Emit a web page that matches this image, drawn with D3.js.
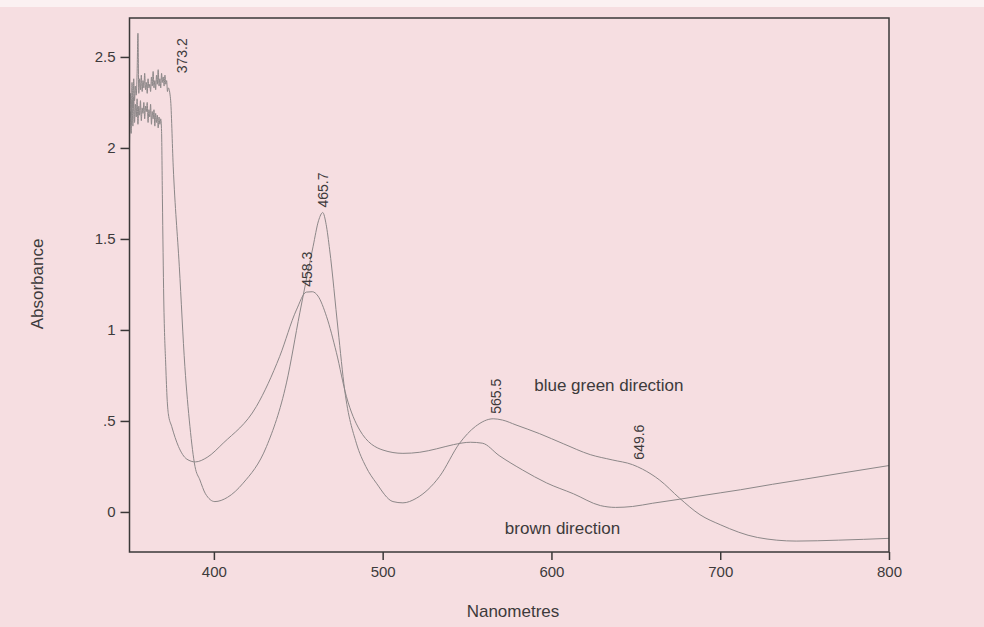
<!DOCTYPE html>
<html>
<head>
<meta charset="utf-8">
<script src="https://cdn.jsdelivr.net/npm/d3@7"></script>
<style>
	html, body { margin: 0; padding: 0; background: #f6dee1; }
	svg { display: block; }
	text { font-family: "Liberation Sans", Arial, sans-serif; fill: #3d3a3b; }
</style>
</head>
<body>
<div id="chart"></div>
<script>
// noisy start of both scans, every 0.5 nm
var noiseBlueGreen = [2.12, 2.30, 2.18, 2.36, 2.22, 2.38, 2.26, 2.34, 2.29, 2.41, 2.63, 2.30, 2.38, 2.32, 2.40, 2.31,
	2.37, 2.33, 2.41, 2.32, 2.36, 2.30, 2.38, 2.33, 2.35, 2.31, 2.39, 2.34, 2.42, 2.33, 2.37, 2.32,
	2.40, 2.35, 2.43, 2.34, 2.38, 2.33, 2.41, 2.36, 2.39, 2.34, 2.40, 2.35, 2.37, 2.31, 2.33];
var noiseBrown = [2.02, 2.20, 2.08, 2.26, 2.12, 2.28, 2.14, 2.24, 2.17, 2.27, 2.13, 2.23, 2.18, 2.26, 2.15, 2.22,
	2.19, 2.25, 2.16, 2.23, 2.20, 2.25, 2.14, 2.21, 2.17, 2.24, 2.13, 2.20, 2.16, 2.21, 2.12, 2.19,
	2.14, 2.18, 2.11, 2.17, 2.13, 2.16];

// rest of the scans: [nm, absorbance]
var blueGreen = [[374.3, 2.27], [375.9, 1.90], [379.5, 1.35], [382.8, 0.80], [385.8, 0.47], [388.8, 0.25],
	[391.7, 0.176], [395, 0.10], [400.6, 0.057], [408, 0.08], [417.3, 0.158], [431.2, 0.36], [443, 0.709],
	[450.9, 1.094], [458.8, 1.46], [462, 1.60], [464.5, 1.645], [466.5, 1.58], [468.6, 1.44], [473.6, 1.0],
	[477.5, 0.67], [484.4, 0.378], [490, 0.25], [496.3, 0.158], [506.1, 0.057], [512, 0.05], [519.9, 0.075],
	[533.7, 0.195], [545.6, 0.378], [555, 0.47], [565.5, 0.512], [571, 0.505], [579, 0.478], [593, 0.43],
	[607, 0.375], [623, 0.315], [636, 0.286], [648, 0.26], [654, 0.235], [664, 0.176], [676, 0.075],
	[688, -0.015], [700, -0.07], [722, -0.14], [745, -0.16], [770, -0.155], [800, -0.145]];
var brown = [[369, 2.09], [369.5, 1.72], [370.3, 1.17], [371.5, 0.80], [372.3, 0.62], [373, 0.54], [375, 0.47],
	[379, 0.36], [384, 0.29], [389, 0.275], [396, 0.30], [405.5, 0.378], [425.2, 0.58], [439, 0.855],
	[448.9, 1.11], [454.8, 1.208], [458.3, 1.21], [461.7, 1.186], [466.7, 1.075], [472.6, 0.875],
	[478.5, 0.635], [486.4, 0.45], [500.2, 0.34], [512, 0.322], [522, 0.328], [532, 0.347], [542, 0.37],
	[552, 0.383], [559, 0.378], [569, 0.31], [583, 0.23], [597, 0.16], [613, 0.10], [629, 0.035], [638, 0.025],
	[648, 0.03], [660, 0.048], [676, 0.07], [688, 0.088], [700, 0.105], [712, 0.122], [731, 0.152],
	[750, 0.18], [771, 0.212], [800, 0.255]];

var xTicks = [400, 500, 600, 700, 800];
var yTicks = [0, 0.5, 1, 1.5, 2, 2.5];
var yTickLabels = ["0", ".5", "1", "1.5", "2", "2.5"];

var peakLabels = [
	{nm: 373.2, text: "373.2", series: "blueGreen"},
	{nm: 465.7, text: "465.7", series: "blueGreen"},
	{nm: 458.3, text: "458.3", series: "brown"},
	{nm: 565.5, text: "565.5", series: "blueGreen"},
	{nm: 649.6, text: "649.6", series: "blueGreen"}
];
var seriesNames = ["blue green direction", "brown direction"];

function Spectrum() {
	var W = 984, H = 627;
	var svg = d3.select("#chart").append("svg").attr("width", W).attr("height", H);

	svg.append("rect").attr("width", W).attr("height", H).attr("fill", "#f6dee1");
	svg.append("rect").attr("width", W).attr("height", 7).attr("fill", "#fbf1f2");

	var x = d3.scaleLinear().domain([350, 800]).range([129.5, 889]);
	var y = d3.scaleLinear().domain([-0.22, 2.714]).range([552, 18]);

	function withNoise(noise, rest) {
		var pts = noise.map(function (v, i) { return [350 + i * 0.5, v]; });
		return pts.concat(rest);
	}
	var data = {
		blueGreen: withNoise(noiseBlueGreen, blueGreen),
		brown: withNoise(noiseBrown, brown)
	};

	var line = d3.line()
		.x(function (d) { return x(d[0]); })
		.y(function (d) { return y(d[1]); })
		.curve(d3.curveMonotoneX);

	["brown", "blueGreen"].forEach(function (k) {
		svg.append("path")
			.datum(data[k])
			.attr("fill", "none")
			.attr("stroke", "#8c8788")
			.attr("stroke-width", 1)
			.attr("d", line);
	});

	// axes (ticks only, the box is drawn separately)
	var gx = svg.append("g").attr("transform", "translate(0,552)")
		.call(d3.axisBottom(x).tickValues(xTicks).tickSize(8).tickSizeOuter(0).tickPadding(6));
	var gy = svg.append("g").attr("transform", "translate(129.5,0)")
		.call(d3.axisLeft(y).tickValues(yTicks).tickSize(9).tickSizeOuter(0).tickPadding(5)
			.tickFormat(function (d, i) { return yTickLabels[i]; }));
	[gx, gy].forEach(function (g) {
		g.select(".domain").remove();
		g.attr("font-size", null);
		g.selectAll("line").attr("stroke", "#3a3838").attr("stroke-width", 1.5);
		g.selectAll("text").style("font-size", "15px").attr("fill", "#3d3a3b");
	});

	svg.append("rect")
		.attr("x", x(350)).attr("y", y(2.714))
		.attr("width", x(800) - x(350)).attr("height", y(-0.22) - y(2.714))
		.attr("fill", "none").attr("stroke", "#3a3838").attr("stroke-width", 1.5);

	// peak labels, rotated; sit just above the highest point near the peak
	var peakDx = {"373.2": 18, "465.7": 3, "458.3": 0, "565.5": 8, "649.6": 9};
	peakLabels.forEach(function (p) {
		var near = data[p.series].filter(function (d) { return Math.abs(d[0] - p.nm) <= 2.5; });
		var top = d3.max(near, function (d) { return d[1]; });
		var px = x(p.nm) + peakDx[p.text];
		var py = p.text === "373.2" ? y(2.41) : y(top) - 5;
		svg.append("text")
			.attr("transform", "translate(" + px + "," + py + ") rotate(-90)")
			.style("font-size", "14px")
			.text(p.text);
	});

	// series names
	svg.append("text").attr("x", x(565.5) + 41).attr("y", y(0.667)).style("font-size", "17px").text(seriesNames[0]);
	svg.append("text").attr("x", x(557) + 26).attr("y", y(-0.12)).style("font-size", "17px").text(seriesNames[1]);

	// axis titles
	svg.append("text").attr("x", 513).attr("y", 617).attr("text-anchor", "middle")
		.style("font-size", "17px").text("Nanometres");
	svg.append("text").attr("transform", "translate(43,284) rotate(-90)").attr("text-anchor", "middle")
		.style("font-size", "17px").text("Absorbance");
}

Spectrum();
</script>
</body>
</html>
